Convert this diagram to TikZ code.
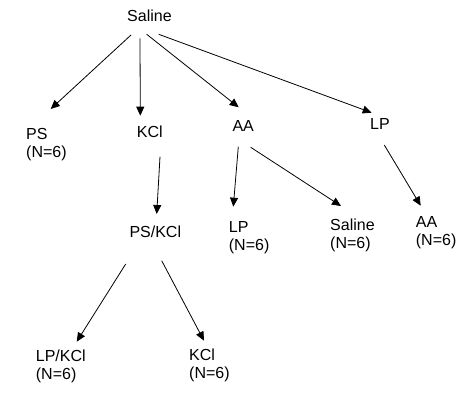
\documentclass[tikz,border=0pt]{standalone}
\usepackage{fontspec}
\setmainfont{Liberation Sans}
\usetikzlibrary{arrows.meta}

\tikzset{
    grp/.style={anchor=base west, inner sep=0pt, align=left,
        font=\fontsize{16}{18}\selectfont},
    arr/.style={line width=0.8pt, -{Triangle[length=9pt,width=8pt]}}
}

\begin{document}
\begin{tikzpicture}[x=1pt,y=-1pt]
    \useasboundingbox (0,0) rectangle (474,404);

    % top level
    \node[grp] (saline) at (127,21.7) {Saline};

    % second level (two-line nodes sit on their last line)
    \node[grp] (ps) at (26,157.3) {PS\\(N=6)};
    \node[grp] (kcl) at (136.7,137.3) {KCl};
    \node[grp] (aa) at (232.3,131) {AA};
    \node[grp] (lp) at (370,129.7) {LP};

    % third level
    \node[grp] (pskcl) at (129.3,237.3) {PS/KCl};
    \node[grp] (lpn) at (228.7,250.3) {LP\\(N=6)};
    \node[grp] (salinen) at (330,248) {Saline\\(N=6)};
    \node[grp] (aan) at (415.7,245.7) {AA\\(N=6)};

    % fourth level
    \node[grp] (lpkcl) at (35.7,379) {LP/KCl\\(N=6)};
    \node[grp] (kcln) at (189,378) {KCl\\(N=6)};

    % arrows
    \draw[arr] ([shift={(4,13.3)}]saline.base west) -- ([shift={(24.7,-48.3)}]ps.base west);
    \draw[arr] ([shift={(13,16.6)}]saline.base west) -- ([shift={(3.6,-21.6)}]kcl.base west);
    \draw[arr] ([shift={(19.7,12.6)}]saline.base west) -- ([shift={(6.4,-23.7)}]aa.base west);
    \draw[arr] ([shift={(31.7,12.6)}]saline.base west) -- ([shift={(1.7,-17)}]lp.base west);

    \draw[arr] ([shift={(23.3,19.4)}]kcl.base west) -- ([shift={(27.4,-23.3)}]pskcl.base west);
    \draw[arr] ([shift={(6,15.7)}]aa.base west) -- ([shift={(4.6,-43.6)}]lpn.base west);
    \draw[arr] ([shift={(18.4,16.3)}]aa.base west) -- ([shift={(11,-42)}]salinen.base west);
    \draw[arr] ([shift={(14.3,15.3)}]lp.base west) -- ([shift={(5,-40)}]aan.base west);

    \draw[arr] ([shift={(-3.6,26.7)}]pskcl.base west) -- ([shift={(41,-37.3)}]lpkcl.base west);
    \draw[arr] ([shift={(32.4,23.4)}]pskcl.base west) -- ([shift={(15,-37.3)}]kcln.base west);
\end{tikzpicture}
\end{document}
